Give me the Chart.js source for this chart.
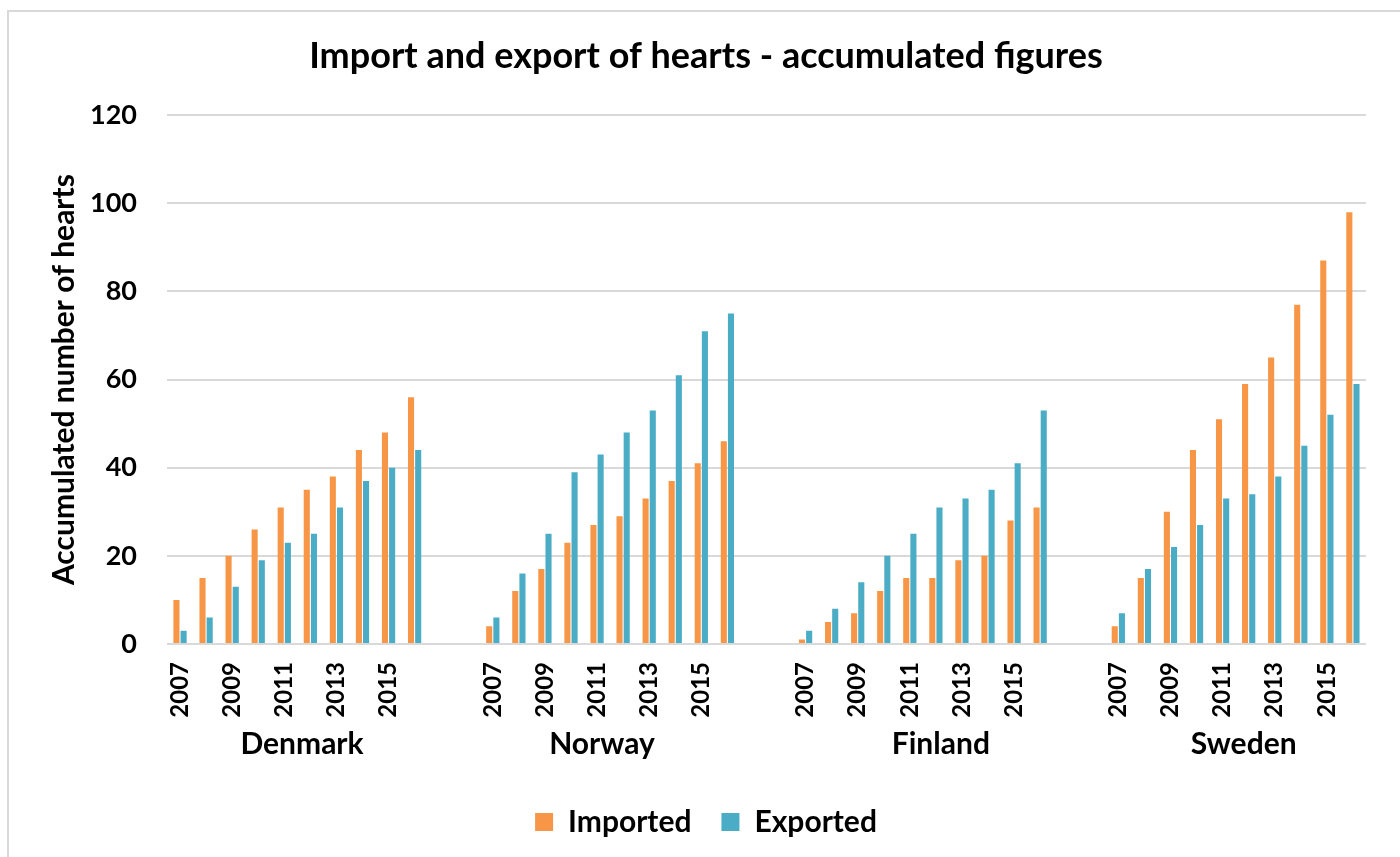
<!DOCTYPE html>
<html>
<head>
<meta charset="utf-8">
<script src="https://cdn.jsdelivr.net/npm/chart.js@4"></script>
<style>
  body { margin: 0; background: #fff; }
  canvas { display: block; }
</style>
</head>
<body>
<canvas id="heartsChart" width="1400" height="857"></canvas>
<script>
const countries = ['Denmark', 'Norway', 'Finland', 'Sweden'];
const years = ['2007', '2008', '2009', '2010', '2011', '2012', '2013', '2014', '2015', '2016'];

// accumulated figures per country, 2007-2016
const denmarkImported = [10, 15, 20, 26, 31, 35, 38, 44, 48, 56];
const denmarkExported = [3, 6, 13, 19, 23, 25, 31, 37, 40, 44];
const norwayImported = [4, 12, 17, 23, 27, 29, 33, 37, 41, 46];
const norwayExported = [6, 16, 25, 39, 43, 48, 53, 61, 71, 75];
const finlandImported = [1, 5, 7, 12, 15, 15, 19, 20, 28, 31];
const finlandExported = [3, 8, 14, 20, 25, 31, 33, 35, 41, 53];
const swedenImported = [4, 15, 30, 44, 51, 59, 65, 77, 87, 98];
const swedenExported = [7, 17, 22, 27, 33, 34, 38, 45, 52, 59];

const yTicks = [0, 20, 40, 60, 80, 100, 120];

const importedByCountry = [denmarkImported, norwayImported, finlandImported, swedenImported];
const exportedByCountry = [denmarkExported, norwayExported, finlandExported, swedenExported];

// two empty categories between the countries, like the Excel original
const GAP = 2;
const labels = [];
const imported = [];
const exported = [];
const groupRanges = [];

countries.forEach((country, c) => {
  if (c > 0) {
    for (let g = 0; g < GAP; g++) {
      labels.push('');
      imported.push(null);
      exported.push(null);
    }
  }
  const start = labels.length;
  years.forEach((year, i) => {
    labels.push(year);
    imported.push(importedByCountry[c][i]);
    exported.push(exportedByCountry[c][i]);
  });
  groupRanges.push({ name: country, start, end: labels.length - 1 });
});

const FONT = 'Lato, "Open Sans", sans-serif';
Chart.defaults.font.family = FONT;
Chart.defaults.font.weight = 'bold';
Chart.defaults.color = '#000';

const frame = {
  id: 'frame',
  beforeDraw(chart) {
    const ctx = chart.ctx;
    ctx.save();
    ctx.fillStyle = '#fff';
    ctx.fillRect(0, 0, chart.width, chart.height);
    ctx.strokeStyle = '#d9d9d9';
    ctx.lineWidth = 2;
    ctx.strokeRect(8, 11, chart.width + 20, chart.height + 20);
    ctx.restore();
  }
};

// Excel doesn't centre the country names exactly, nudge them (in categories)
const groupShift = [0.18, -0.31, 0.69, 0.31];

const groupLabels = {
  id: 'groupLabels',
  afterDraw(chart) {
    const ctx = chart.ctx;
    const x = chart.scales.x;
    ctx.save();
    ctx.font = 'bold 30px ' + FONT;
    ctx.fillStyle = '#000';
    ctx.textAlign = 'center';
    ctx.textBaseline = 'middle';
    groupRanges.forEach((g, i) => {
      const mid = (g.start + g.end) / 2 + groupShift[i];
      ctx.fillText(g.name, x.getPixelForValue(mid), 744);
    });
    ctx.restore();
  }
};

new Chart(document.getElementById('heartsChart'), {
  type: 'bar',
  data: {
    labels,
    datasets: [
      {
        label: 'Imported',
        data: imported,
        backgroundColor: '#F79646',
        categoryPercentage: 0.55,
        barPercentage: 0.85
      },
      {
        label: 'Exported',
        data: exported,
        backgroundColor: '#4BACC6',
        categoryPercentage: 0.55,
        barPercentage: 0.85
      }
    ]
  },
  options: {
    responsive: false,
    animation: false,
    devicePixelRatio: 1,
    // left padding moves title + legend centre to where Excel had it
    layout: { padding: { left: 38, right: 26, top: 0, bottom: 10 } },
    plugins: {
      title: {
        display: true,
        text: 'Import and export of hearts - accumulated figures',
        font: { size: 36, weight: 'bold' },
        padding: { top: 35, bottom: 37 }
      },
      legend: {
        position: 'bottom',
        labels: {
          font: { size: 30, weight: 'bold' },
          boxWidth: 18,
          boxHeight: 18,
          padding: 30
        }
      }
    },
    scales: {
      x: {
        grid: { display: false, drawTicks: false },
        border: { display: false },
        ticks: {
          autoSkip: false,
          minRotation: 90,
          maxRotation: 90,
          padding: 18,
          font: { size: 24, weight: 'bold' },
          callback: function (value, index) {
            return index % 2 === 0 ? this.getLabelForValue(value) : '';
          }
        },
        afterFit(scale) { scale.height = 133; }
      },
      y: {
        min: 0,
        max: 120,
        afterBuildTicks(scale) {
          scale.ticks = yTicks.map(v => ({ value: v }));
        },
        grid: { color: '#d9d9d9', lineWidth: 2, drawTicks: false },
        border: { display: false },
        ticks: { padding: 30, font: { size: 27, weight: 'bold' } },
        title: {
          display: true,
          text: 'Accumulated number of hearts',
          font: { size: 30, weight: 'bold' },
          padding: { top: 8 }
        },
        afterFit(scale) { scale.width = 129; }
      }
    }
  },
  plugins: [frame, groupLabels]
});
</script>
</body>
</html>
